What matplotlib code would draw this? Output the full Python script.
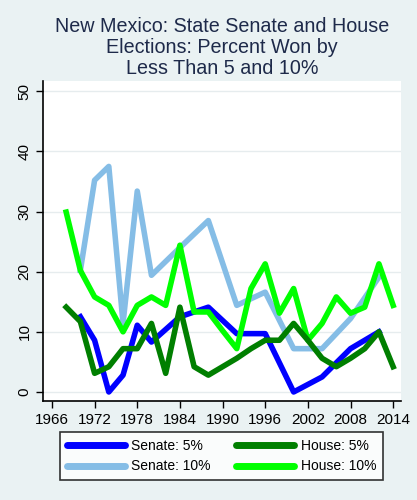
import matplotlib
matplotlib.use("Agg")
import matplotlib.pyplot as plt

# values
senate_years = [1970, 1972, 1974, 1976, 1978, 1980, 1984, 1988, 1992, 1996, 2000, 2004, 2008, 2012]
senate_5 = [12.5, 8.6, 0.0, 2.8, 11.1, 8.3, 12.5, 14.1, 9.7, 9.7, 0.0, 2.5, 7.2, 10.0]
senate_10 = [20.2, 35.2, 37.5, 11.4, 33.4, 19.4, 24.0, 28.5, 14.4, 16.6, 7.2, 7.2, 12.2, 19.1]

house_years = list(range(1968, 2016, 2))
house_5 = [14.1, 11.7, 3.1, 4.2, 7.2, 7.2, 11.4, 3.1, 14.1, 4.2, 2.8, 4.2,
           5.6, 7.2, 8.6, 8.6, 11.4, 8.6, 5.6, 4.2, 5.6, 7.2, 10.0, 4.2]
house_10 = [29.9, 20.2, 15.8, 14.4, 10.0, 14.4, 15.8, 14.4, 24.4, 13.3, 13.3, 10.2,
            7.2, 17.2, 21.3, 13.1, 17.2, 8.6, 11.4, 15.8, 13.1, 14.1, 21.3, 14.4]

x_ticks = list(range(1966, 2015, 6))
y_ticks = list(range(0, 51, 10))

title = "New Mexico: State Senate and House\nElections: Percent Won by\nLess Than 5 and 10%"

plt.rcParams['font.family'] = ['Liberation Sans', 'DejaVu Sans']

bg = '#eaf2f3'
fig = plt.figure(figsize=(4.17, 5.0), dpi=100, facecolor=bg)
ax = fig.add_axes([0.1024, 0.198, 0.8592, 0.640])
ax.set_facecolor('white')

lw = 4
l1, = ax.plot(senate_years, senate_5, color='#0000ff', lw=lw, label='Senate: 5%')
l2, = ax.plot(senate_years, senate_10, color='#85bde6', lw=lw, label='Senate: 10%')
l3, = ax.plot(house_years, house_5, color='#007f00', lw=lw, label='House: 5%')
l4, = ax.plot(house_years, house_10, color='#00ff00', lw=lw, label='House: 10%')
# draw order like the reference: light blue under, dark lines on top
l2.set_zorder(2)
l1.set_zorder(3)
l4.set_zorder(4)
l3.set_zorder(5)

ax.set_xlim(1964.7, 2015.1)
ax.set_ylim(-1.5, 51.7)
ax.set_xticks(x_ticks)
ax.set_yticks(y_ticks)
ax.set_yticklabels([str(v) for v in y_ticks], rotation=90, va='center')
ax.tick_params(axis='both', direction='out', length=5, width=1, labelsize=11, colors='black')
ax.tick_params(axis='y', pad=3)
ax.yaxis.grid(True, color='#e6ecee', lw=1)
ax.set_axisbelow(True)
for side in ['top', 'right']:
    ax.spines[side].set_visible(False)
for side in ['left', 'bottom']:
    ax.spines[side].set_linewidth(1.2)

fig.text(0.533, 0.905, title, ha='center', va='center', fontsize=14.2,
         color='#1e2a4a', linespacing=1.1)

# column-wise fill: Senate in first column, House in second
leg = fig.legend(handles=[l1, l2, l3, l4], loc='center', bbox_to_anchor=(0.531, 0.088),
                 ncol=2, fontsize=10, frameon=True, fancybox=False,
                 handlelength=4.2, handletextpad=0.45, columnspacing=1.8,
                 borderpad=0.5, labelspacing=0.5)
leg.get_frame().set_edgecolor('black')
leg.get_frame().set_linewidth(1.2)
for h in leg.legend_handles:
    h.set_linewidth(5)
    h.set_solid_capstyle('round')

fig.savefig('out.png', dpi=100, facecolor=bg)
